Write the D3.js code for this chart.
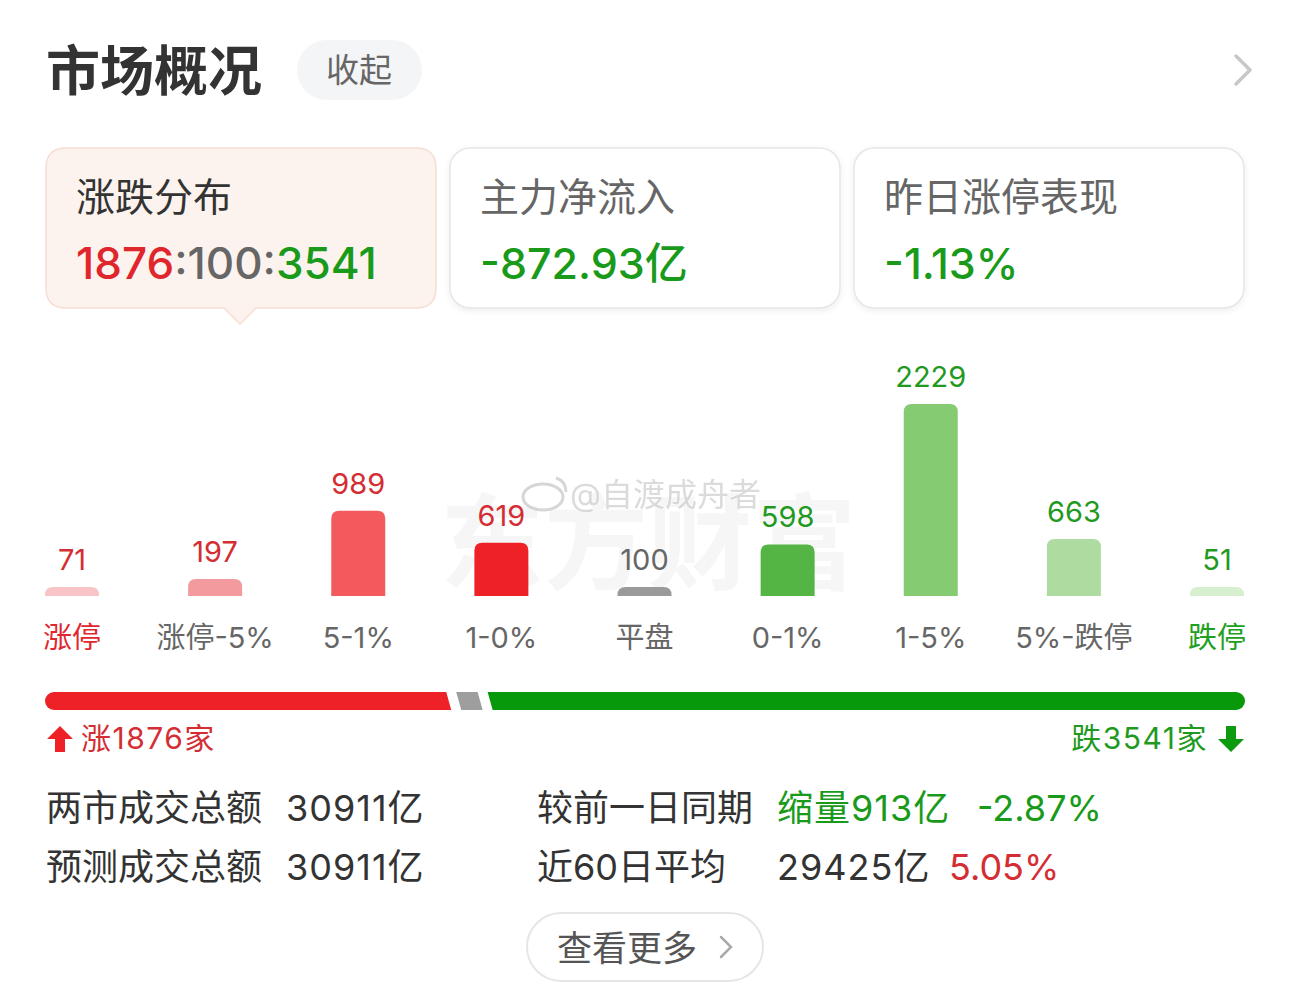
<!DOCTYPE html>
<html>
<head>
<meta charset="utf-8">
<script src="https://cdn.jsdelivr.net/npm/d3@7"></script>
<style>
body{margin:0;background:#fff;}
svg{display:block;font-family:Inter,"Noto Sans CJK SC","Noto Sans",sans-serif;}
</style>
</head>
<body>
<div id="chart"></div>
<script>
// data
var categories = ["涨停","涨停-5%","5-1%","1-0%","平盘","0-1%","1-5%","5%-跌停","跌停"];
var counts = [71,197,989,619,100,598,2229,663,51];
var breadth = [1876,100,3541];            // up : flat : down
var cardTitles = ["涨跌分布","主力净流入","昨日涨停表现"];
var netInflow = "-872.93亿";
var limitUpPerf = "-1.13%";
var turnoverRows = [["两市成交总额","30911亿"],["预测成交总额","30911亿"]];
var compareRows = [["较前一日同期","缩量913亿","-2.87%"],["近60日平均","29425亿","5.05%"]];

// styles
var barColors = ["#f8c4c8","#f39a9e","#f35a5d","#ee2126","#9a9a9a","#54b444","#84cb72","#aedb9f","#d6efcf"];
var labelColors = ["#e0262f","#666","#666","#666","#666","#666","#666","#666","#20a020"];
var valueColors = ["#d42d33","#d42d33","#d42d33","#d42d33","#666","#1f9a1f","#1f9a1f","#1f9a1f","#1f9a1f"];
var RED = "#e0262d", GREEN = "#1a9a1a", GREY = "#666";

var W = 1290, H = 985;
var svg = d3.select("#chart").append("svg").attr("width",W).attr("height",H);

// header
svg.append("text").text("市场概况").attr("x",46).attr("y",91).attr("font-size",54).attr("font-weight","bold").attr("fill","#333");
svg.append("rect").attr("x",297).attr("y",40).attr("width",125).attr("height",60).attr("rx",30).attr("fill","#f4f5f7");
svg.append("text").text("收起").attr("x",359).attr("y",82).attr("text-anchor","middle").attr("font-size",33).attr("fill","#666");
svg.append("path").attr("d","M1236,56 L1250,70 L1236,84").attr("fill","none").attr("stroke","#c8c8c8").attr("stroke-width",3.5).attr("stroke-linecap","round").attr("stroke-linejoin","round");

// cards
var defs = svg.append("defs");
var f = defs.append("filter").attr("id","sh").attr("x","-10%").attr("y","-10%").attr("width","120%").attr("height","130%");
f.append("feDropShadow").attr("dx",0).attr("dy",2).attr("stdDeviation",3).attr("flood-color","#000").attr("flood-opacity",0.07);

var cardX = [46,450,854], cardW = 390;
cardX.forEach(function(x,i){
	var g = svg.append("g");
	if(i==0){
		var y0 = 148, y1 = 308, r = 20, cx = x+194;
		g.append("path")
			.attr("d","M"+(x+r)+","+y0+" H"+(x+cardW-r)+" Q"+(x+cardW)+","+y0+" "+(x+cardW)+","+(y0+r)+
				" V"+(y1-r)+" Q"+(x+cardW)+","+y1+" "+(x+cardW-r)+","+y1+
				" H"+(cx+16)+" L"+cx+","+(y1+16)+" L"+(cx-16)+","+y1+
				" H"+(x+r)+" Q"+x+","+y1+" "+x+","+(y1-r)+" V"+(y0+r)+" Q"+x+","+y0+" "+(x+r)+","+y0+"Z")
			.attr("fill","#fdf3ee").attr("stroke","#f7ddd3").attr("stroke-width",1.5);
	} else {
		g.append("rect").attr("x",x).attr("y",148).attr("width",cardW).attr("height",160).attr("rx",20)
			.attr("fill","#fff").attr("stroke","#e6e6e6").attr("stroke-width",1.5).attr("filter","url(#sh)");
	}
	g.append("text").text(cardTitles[i]).attr("x",x+30).attr("y",211).attr("font-size",39).attr("fill",i==0?"#333":"#666");
});
var v1 = svg.append("text").attr("x",76).attr("y",279).attr("font-size",44).attr("font-weight",500);
v1.append("tspan").text(breadth[0]).attr("fill",RED);
v1.append("tspan").text(":"+breadth[1]+":").attr("fill",GREY);
v1.append("tspan").text(breadth[2]).attr("fill",GREEN);
svg.append("text").text(netInflow).attr("x",480).attr("y",279).attr("font-size",43).attr("font-weight",500).attr("fill",GREEN);
svg.append("text").text(limitUpPerf).attr("x",884).attr("y",279).attr("font-size",43).attr("font-weight",500).attr("fill",GREEN);

// watermarks
svg.append("text").text("东方财富").attr("x",440).attr("y",582).attr("font-size",104).attr("font-weight","bold").attr("fill","#f6f6f6");

// bars
var baseY = 596, barW = 54, minH = 9;
var x = d3.scalePoint().domain(categories).range([72,1217]);
var y = d3.scaleLinear().domain([0,d3.max(counts)]).range([0,192]);

function topRounded(x0,y0,w,h,r){
	r = Math.min(r,h);
	return "M"+x0+","+(y0+h)+" V"+(y0+r)+" Q"+x0+","+y0+" "+(x0+r)+","+y0+" H"+(x0+w-r)+
		" Q"+(x0+w)+","+y0+" "+(x0+w)+","+(y0+r)+" V"+(y0+h)+"Z";
}
var bh = function(d){ return Math.max(minH, y(d)); };

svg.selectAll(".bar").data(counts).enter().append("path")
	.attr("d",function(d,i){ return topRounded(x(categories[i])-barW/2, baseY-bh(d), barW, bh(d), 8); })
	.attr("fill",function(d,i){ return barColors[i]; });

svg.selectAll(".val").data(counts).enter().append("text")
	.text(function(d){ return d; })
	.attr("x",function(d,i){ return x(categories[i]); })
	.attr("y",function(d){ return baseY-bh(d)-17; })
	.attr("text-anchor","middle").attr("font-size",29)
	.attr("fill",function(d,i){ return valueColors[i]; });

svg.selectAll(".cat").data(categories).enter().append("text")
	.text(function(d){ return d; })
	.attr("x",function(d){ return x(d); })
	.attr("y",648).attr("text-anchor","middle").attr("font-size",29)
	.attr("fill",function(d,i){ return labelColors[i]; });

// weibo watermark
var wm = svg.append("g").attr("opacity",0.75);
wm.append("ellipse").attr("cx",543).attr("cy",497).attr("rx",20).attr("ry",13).attr("fill","none").attr("stroke","#c9c9c9").attr("stroke-width",3);
wm.append("path").attr("d","M556,478 Q566,481 566,492").attr("fill","none").attr("stroke","#c9c9c9").attr("stroke-width",3);
wm.append("text").text("@自渡成舟者").attr("x",570).attr("y",506).attr("font-size",32)
	.attr("fill","#cfcfcf").attr("stroke","#fff").attr("stroke-width",1).attr("paint-order","stroke");

// breadth bar
var total = d3.sum(breadth), gap = 10, slant = 5, by = 692, bH = 18;
var bx = d3.scaleLinear().domain([0,total]).range([45,1245-2*gap]);
var segs = [];
var acc = 0;
breadth.forEach(function(v,i){
	segs.push({x0:bx(acc)+i*gap, x1:bx(acc+v)+i*gap, i:i});
	acc += v;
});
var segColors = ["#ee2126","#9e9e9e","#08990a"];
segs.forEach(function(s){
	var p;
	if(s.i==0){
		p = "M"+(s.x0+bH/2)+","+by+" H"+s.x1+" L"+(s.x1+slant)+","+(by+bH)+" H"+(s.x0+bH/2)+" A"+(bH/2)+","+(bH/2)+" 0 0 1 "+(s.x0+bH/2)+","+by+"Z";
	} else if(s.i==2){
		p = "M"+s.x0+","+by+" H"+(s.x1-bH/2)+" A"+(bH/2)+","+(bH/2)+" 0 0 1 "+(s.x1-bH/2)+","+(by+bH)+" H"+(s.x0+slant)+"Z";
	} else {
		p = "M"+s.x0+","+by+" H"+s.x1+" L"+(s.x1+slant)+","+(by+bH)+" H"+(s.x0+slant)+"Z";
	}
	svg.append("path").attr("d",p).attr("fill",segColors[s.i]);
});

// up/down legend
svg.append("path").attr("d","M60,726 L73,739 L65,739 L65,752 L55,752 L55,739 L47,739Z").attr("fill","#ee2126");
svg.append("text").text("涨"+breadth[0]+"家").attr("x",81).attr("y",749).attr("font-size",30).attr("letter-spacing",1.5).attr("fill","#d42d33");
svg.append("path").attr("d","M1231,752 L1244,739 L1236,739 L1236,726 L1226,726 L1226,739 L1218,739Z").attr("fill","#0c9a10");
svg.append("text").text("跌"+breadth[2]+"家").attr("x",1208).attr("y",749).attr("text-anchor","end").attr("font-size",30).attr("letter-spacing",1.5).attr("fill","#1f9a1f");

// turnover rows
var rowY = [821,880];
turnoverRows.forEach(function(r,i){
	svg.append("text").text(r[0]).attr("x",46).attr("y",rowY[i]).attr("font-size",36).attr("fill","#333");
	svg.append("text").text(r[1]).attr("x",286).attr("y",rowY[i]).attr("font-size",36).attr("letter-spacing",1).attr("fill","#333");
});
compareRows.forEach(function(r,i){
	svg.append("text").text(r[0]).attr("x",537).attr("y",rowY[i]).attr("font-size",36).attr("fill","#333");
	svg.append("text").text(r[1]).attr("x",777).attr("y",rowY[i]).attr("font-size",36).attr("letter-spacing",1).attr("fill",i==0?GREEN:"#333");
	svg.append("text").text(r[2]).attr("x",i==0?977:949).attr("y",rowY[i]).attr("font-size",36).attr("fill",i==0?GREEN:"#d42d33");
});

// more button
svg.append("rect").attr("x",527).attr("y",913).attr("width",236).attr("height",68).attr("rx",34).attr("fill","#fff").attr("stroke","#e6e6e6").attr("stroke-width",2);
svg.append("text").text("查看更多").attr("x",557).attr("y",961).attr("font-size",35).attr("fill","#555");
svg.append("path").attr("d","M721,937 L731,947 L721,957").attr("fill","none").attr("stroke","#aaa").attr("stroke-width",2.5).attr("stroke-linecap","round");
</script>
</body>
</html>
